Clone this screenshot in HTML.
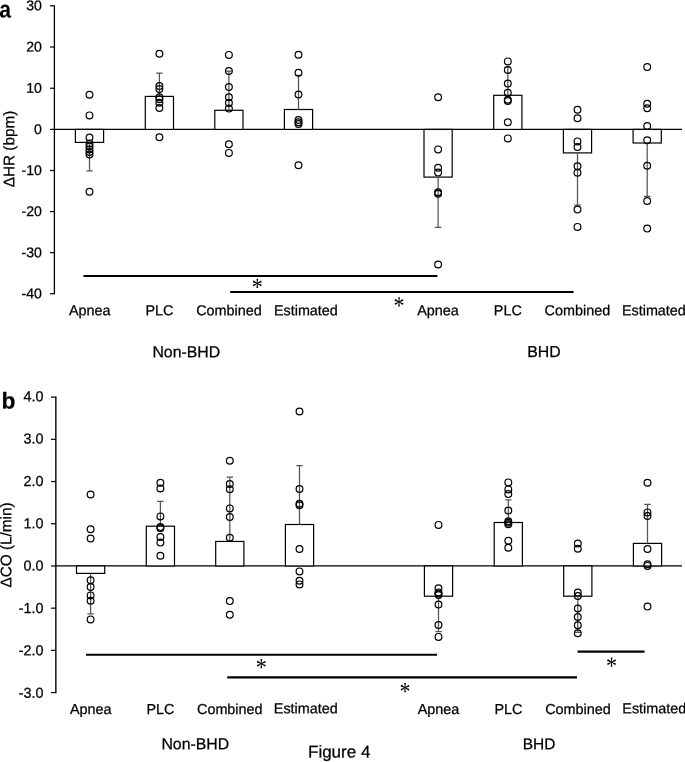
<!DOCTYPE html>
<html lang="en"><head><meta charset="utf-8"><title>Figure 4</title>
<style>
html,body{margin:0;padding:0;background:#fff;}
body{width:685px;height:762px;overflow:hidden;}
svg{display:block;will-change:transform;}
</style></head><body>
<svg width="685" height="762" viewBox="0 0 685 762">
<rect width="685" height="762" fill="#fff"/>
<line x1="54.40" y1="5.20" x2="54.40" y2="294.34" stroke="#000" stroke-width="1.3"/>
<line x1="50.00" y1="5.82" x2="54.40" y2="5.82" stroke="#000" stroke-width="1.2"/>
<text transform="rotate(0.03 41.90 10.32)" x="41.90" y="10.32" font-size="14.1" text-anchor="end" font-weight="normal" font-family='"Liberation Sans", sans-serif' fill="#000" stroke="#000" stroke-width="0.25" >30</text>
<line x1="50.00" y1="47.02" x2="54.40" y2="47.02" stroke="#000" stroke-width="1.2"/>
<text transform="rotate(0.03 41.90 51.52)" x="41.90" y="51.52" font-size="14.1" text-anchor="end" font-weight="normal" font-family='"Liberation Sans", sans-serif' fill="#000" stroke="#000" stroke-width="0.25" >20</text>
<line x1="50.00" y1="88.22" x2="54.40" y2="88.22" stroke="#000" stroke-width="1.2"/>
<text transform="rotate(0.03 41.90 92.72)" x="41.90" y="92.72" font-size="14.1" text-anchor="end" font-weight="normal" font-family='"Liberation Sans", sans-serif' fill="#000" stroke="#000" stroke-width="0.25" >10</text>
<line x1="50.00" y1="129.42" x2="54.40" y2="129.42" stroke="#000" stroke-width="1.2"/>
<text transform="rotate(0.03 41.90 133.92)" x="41.90" y="133.92" font-size="14.1" text-anchor="end" font-weight="normal" font-family='"Liberation Sans", sans-serif' fill="#000" stroke="#000" stroke-width="0.25" >0</text>
<line x1="50.00" y1="170.50" x2="54.40" y2="170.50" stroke="#000" stroke-width="1.2"/>
<text transform="rotate(0.03 41.90 175.00)" x="41.90" y="175.00" font-size="14.1" text-anchor="end" font-weight="normal" font-family='"Liberation Sans", sans-serif' fill="#000" stroke="#000" stroke-width="0.25" >-10</text>
<line x1="50.00" y1="211.58" x2="54.40" y2="211.58" stroke="#000" stroke-width="1.2"/>
<text transform="rotate(0.03 41.90 216.08)" x="41.90" y="216.08" font-size="14.1" text-anchor="end" font-weight="normal" font-family='"Liberation Sans", sans-serif' fill="#000" stroke="#000" stroke-width="0.25" >-20</text>
<line x1="50.00" y1="252.66" x2="54.40" y2="252.66" stroke="#000" stroke-width="1.2"/>
<text transform="rotate(0.03 41.90 257.16)" x="41.90" y="257.16" font-size="14.1" text-anchor="end" font-weight="normal" font-family='"Liberation Sans", sans-serif' fill="#000" stroke="#000" stroke-width="0.25" >-30</text>
<line x1="50.00" y1="293.74" x2="54.40" y2="293.74" stroke="#000" stroke-width="1.2"/>
<text transform="rotate(0.03 41.90 298.24)" x="41.90" y="298.24" font-size="14.1" text-anchor="end" font-weight="normal" font-family='"Liberation Sans", sans-serif' fill="#000" stroke="#000" stroke-width="0.25" >-40</text>
<line x1="54.40" y1="129.42" x2="682.00" y2="129.42" stroke="#000" stroke-width="1.2"/>
<rect x="75.40" y="129.42" width="28.20" height="12.98" fill="#fff" stroke="#000" stroke-width="1.2"/>
<rect x="145.30" y="96.40" width="28.20" height="33.02" fill="#fff" stroke="#000" stroke-width="1.2"/>
<rect x="214.80" y="110.30" width="28.20" height="19.12" fill="#fff" stroke="#000" stroke-width="1.2"/>
<rect x="284.40" y="109.50" width="28.20" height="19.92" fill="#fff" stroke="#000" stroke-width="1.2"/>
<rect x="424.00" y="129.42" width="28.20" height="47.68" fill="#fff" stroke="#000" stroke-width="1.2"/>
<rect x="493.70" y="95.30" width="28.20" height="34.12" fill="#fff" stroke="#000" stroke-width="1.2"/>
<rect x="563.40" y="129.42" width="28.20" height="23.48" fill="#fff" stroke="#000" stroke-width="1.2"/>
<rect x="633.10" y="129.42" width="28.20" height="13.58" fill="#fff" stroke="#000" stroke-width="1.2"/>
<path d="M89.50 142.40V170.90M86.30 170.90H92.70" fill="none" stroke="#555" stroke-width="1.25"/>
<path d="M159.40 96.40V73.10M156.20 73.10H162.60" fill="none" stroke="#555" stroke-width="1.25"/>
<path d="M228.90 110.30V71.10M225.70 71.10H232.10" fill="none" stroke="#555" stroke-width="1.25"/>
<path d="M298.50 109.50V75.40M295.30 75.40H301.70" fill="none" stroke="#555" stroke-width="1.25"/>
<path d="M438.10 177.10V227.40M434.90 227.40H441.30" fill="none" stroke="#555" stroke-width="1.25"/>
<path d="M507.80 95.30V67.40M504.60 67.40H511.00" fill="none" stroke="#555" stroke-width="1.25"/>
<path d="M577.50 152.90V205.20M574.30 205.20H580.70" fill="none" stroke="#555" stroke-width="1.25"/>
<path d="M647.20 143.00V196.30M644.00 196.30H650.40" fill="none" stroke="#555" stroke-width="1.25"/>
<circle cx="89.50" cy="94.80" r="3.38" fill="none" stroke="#000" stroke-width="1.2"/>
<circle cx="89.50" cy="115.40" r="3.38" fill="none" stroke="#000" stroke-width="1.2"/>
<circle cx="89.50" cy="137.50" r="3.38" fill="none" stroke="#000" stroke-width="1.2"/>
<circle cx="89.50" cy="143.50" r="3.38" fill="none" stroke="#000" stroke-width="1.2"/>
<circle cx="89.50" cy="146.50" r="3.38" fill="none" stroke="#000" stroke-width="1.2"/>
<circle cx="89.50" cy="149.50" r="3.38" fill="none" stroke="#000" stroke-width="1.2"/>
<circle cx="89.50" cy="152.00" r="3.38" fill="none" stroke="#000" stroke-width="1.2"/>
<circle cx="89.50" cy="154.50" r="3.38" fill="none" stroke="#000" stroke-width="1.2"/>
<circle cx="89.50" cy="191.80" r="3.38" fill="none" stroke="#000" stroke-width="1.2"/>
<circle cx="159.40" cy="53.70" r="3.38" fill="none" stroke="#000" stroke-width="1.2"/>
<circle cx="159.40" cy="86.10" r="3.38" fill="none" stroke="#000" stroke-width="1.2"/>
<circle cx="159.40" cy="89.10" r="3.38" fill="none" stroke="#000" stroke-width="1.2"/>
<circle cx="159.40" cy="97.30" r="3.38" fill="none" stroke="#000" stroke-width="1.2"/>
<circle cx="159.40" cy="99.30" r="3.38" fill="none" stroke="#000" stroke-width="1.2"/>
<circle cx="159.40" cy="102.80" r="3.38" fill="none" stroke="#000" stroke-width="1.2"/>
<circle cx="159.40" cy="108.00" r="3.38" fill="none" stroke="#000" stroke-width="1.2"/>
<circle cx="159.40" cy="137.20" r="3.38" fill="none" stroke="#000" stroke-width="1.2"/>
<circle cx="228.90" cy="54.90" r="3.38" fill="none" stroke="#000" stroke-width="1.2"/>
<circle cx="228.90" cy="71.10" r="3.38" fill="none" stroke="#000" stroke-width="1.2"/>
<circle cx="228.90" cy="87.10" r="3.38" fill="none" stroke="#000" stroke-width="1.2"/>
<circle cx="228.90" cy="97.20" r="3.38" fill="none" stroke="#000" stroke-width="1.2"/>
<circle cx="228.90" cy="103.00" r="3.38" fill="none" stroke="#000" stroke-width="1.2"/>
<circle cx="228.90" cy="108.60" r="3.38" fill="none" stroke="#000" stroke-width="1.2"/>
<circle cx="228.90" cy="144.20" r="3.38" fill="none" stroke="#000" stroke-width="1.2"/>
<circle cx="228.90" cy="152.90" r="3.38" fill="none" stroke="#000" stroke-width="1.2"/>
<circle cx="298.50" cy="54.70" r="3.38" fill="none" stroke="#000" stroke-width="1.2"/>
<circle cx="298.50" cy="72.80" r="3.38" fill="none" stroke="#000" stroke-width="1.2"/>
<circle cx="298.50" cy="94.60" r="3.38" fill="none" stroke="#000" stroke-width="1.2"/>
<circle cx="298.50" cy="120.00" r="3.38" fill="none" stroke="#000" stroke-width="1.2"/>
<circle cx="298.50" cy="122.30" r="3.38" fill="none" stroke="#000" stroke-width="1.2"/>
<circle cx="298.50" cy="124.00" r="3.38" fill="none" stroke="#000" stroke-width="1.2"/>
<circle cx="298.50" cy="165.30" r="3.38" fill="none" stroke="#000" stroke-width="1.2"/>
<circle cx="438.10" cy="97.30" r="3.38" fill="none" stroke="#000" stroke-width="1.2"/>
<circle cx="438.10" cy="149.40" r="3.38" fill="none" stroke="#000" stroke-width="1.2"/>
<circle cx="438.10" cy="167.80" r="3.38" fill="none" stroke="#000" stroke-width="1.2"/>
<circle cx="438.10" cy="172.60" r="3.38" fill="none" stroke="#000" stroke-width="1.2"/>
<circle cx="438.10" cy="192.30" r="3.38" fill="none" stroke="#000" stroke-width="1.2"/>
<circle cx="438.10" cy="193.80" r="3.38" fill="none" stroke="#000" stroke-width="1.2"/>
<circle cx="438.10" cy="264.50" r="3.38" fill="none" stroke="#000" stroke-width="1.2"/>
<circle cx="507.80" cy="61.40" r="3.38" fill="none" stroke="#000" stroke-width="1.2"/>
<circle cx="507.80" cy="69.90" r="3.38" fill="none" stroke="#000" stroke-width="1.2"/>
<circle cx="507.80" cy="83.60" r="3.38" fill="none" stroke="#000" stroke-width="1.2"/>
<circle cx="507.80" cy="92.80" r="3.38" fill="none" stroke="#000" stroke-width="1.2"/>
<circle cx="507.80" cy="99.80" r="3.38" fill="none" stroke="#000" stroke-width="1.2"/>
<circle cx="507.80" cy="101.00" r="3.38" fill="none" stroke="#000" stroke-width="1.2"/>
<circle cx="507.80" cy="122.20" r="3.38" fill="none" stroke="#000" stroke-width="1.2"/>
<circle cx="507.80" cy="138.40" r="3.38" fill="none" stroke="#000" stroke-width="1.2"/>
<circle cx="577.50" cy="109.80" r="3.38" fill="none" stroke="#000" stroke-width="1.2"/>
<circle cx="577.50" cy="118.20" r="3.38" fill="none" stroke="#000" stroke-width="1.2"/>
<circle cx="577.50" cy="141.40" r="3.38" fill="none" stroke="#000" stroke-width="1.2"/>
<circle cx="577.50" cy="147.10" r="3.38" fill="none" stroke="#000" stroke-width="1.2"/>
<circle cx="577.50" cy="166.30" r="3.38" fill="none" stroke="#000" stroke-width="1.2"/>
<circle cx="577.50" cy="172.80" r="3.38" fill="none" stroke="#000" stroke-width="1.2"/>
<circle cx="577.50" cy="209.60" r="3.38" fill="none" stroke="#000" stroke-width="1.2"/>
<circle cx="577.50" cy="226.90" r="3.38" fill="none" stroke="#000" stroke-width="1.2"/>
<circle cx="647.20" cy="67.10" r="3.38" fill="none" stroke="#000" stroke-width="1.2"/>
<circle cx="647.20" cy="103.80" r="3.38" fill="none" stroke="#000" stroke-width="1.2"/>
<circle cx="647.20" cy="108.30" r="3.38" fill="none" stroke="#000" stroke-width="1.2"/>
<circle cx="647.20" cy="126.00" r="3.38" fill="none" stroke="#000" stroke-width="1.2"/>
<circle cx="647.20" cy="140.20" r="3.38" fill="none" stroke="#000" stroke-width="1.2"/>
<circle cx="647.20" cy="165.80" r="3.38" fill="none" stroke="#000" stroke-width="1.2"/>
<circle cx="647.20" cy="201.00" r="3.38" fill="none" stroke="#000" stroke-width="1.2"/>
<circle cx="647.20" cy="228.60" r="3.38" fill="none" stroke="#000" stroke-width="1.2"/>
<line x1="83.40" y1="276.00" x2="437.40" y2="276.00" stroke="#000" stroke-width="2.1"/>
<line x1="230.20" y1="292.00" x2="573.60" y2="292.00" stroke="#000" stroke-width="2.1"/>
<text transform="translate(257.15,295.59) rotate(0.2) scale(1,1.17)" font-size="22" text-anchor="middle" font-family='"Liberation Serif", serif' fill="#000">*</text>
<text transform="translate(399.00,314.14) rotate(0.2) scale(1,1.17)" font-size="22" text-anchor="middle" font-family='"Liberation Serif", serif' fill="#000">*</text>
<text transform="rotate(0.03 89.80 315.35)" x="89.80" y="315.35" font-size="14.4" text-anchor="middle" font-weight="normal" font-family='"Liberation Sans", sans-serif' fill="#000" stroke="#000" stroke-width="0.25" >Apnea</text>
<text transform="rotate(0.03 159.50 315.35)" x="159.50" y="315.35" font-size="14.4" text-anchor="middle" font-weight="normal" font-family='"Liberation Sans", sans-serif' fill="#000" stroke="#000" stroke-width="0.25" >PLC</text>
<text transform="rotate(0.03 229.00 315.35)" x="229.00" y="315.35" font-size="14.4" text-anchor="middle" font-weight="normal" font-family='"Liberation Sans", sans-serif' fill="#000" stroke="#000" stroke-width="0.25" >Combined</text>
<text transform="rotate(0.03 305.90 315.35)" x="305.90" y="315.35" font-size="14.4" text-anchor="middle" font-weight="normal" font-family='"Liberation Sans", sans-serif' fill="#000" stroke="#000" stroke-width="0.25" >Estimated</text>
<text transform="rotate(0.03 438.00 315.35)" x="438.00" y="315.35" font-size="14.4" text-anchor="middle" font-weight="normal" font-family='"Liberation Sans", sans-serif' fill="#000" stroke="#000" stroke-width="0.25" >Apnea</text>
<text transform="rotate(0.03 507.80 315.35)" x="507.80" y="315.35" font-size="14.4" text-anchor="middle" font-weight="normal" font-family='"Liberation Sans", sans-serif' fill="#000" stroke="#000" stroke-width="0.25" >PLC</text>
<text transform="rotate(0.03 577.40 315.35)" x="577.40" y="315.35" font-size="14.4" text-anchor="middle" font-weight="normal" font-family='"Liberation Sans", sans-serif' fill="#000" stroke="#000" stroke-width="0.25" >Combined</text>
<text transform="rotate(0.03 653.90 315.35)" x="653.90" y="315.35" font-size="14.4" text-anchor="middle" font-weight="normal" font-family='"Liberation Sans", sans-serif' fill="#000" stroke="#000" stroke-width="0.25" >Estimated</text>
<text transform="rotate(0.03 186.30 357.30)" x="186.30" y="357.30" font-size="15.85" text-anchor="middle" font-weight="normal" font-family='"Liberation Sans", sans-serif' fill="#000" stroke="#000" stroke-width="0.25" >Non-BHD</text>
<text transform="rotate(0.03 543.90 357.00)" x="543.90" y="357.00" font-size="15.85" text-anchor="middle" font-weight="normal" font-family='"Liberation Sans", sans-serif' fill="#000" stroke="#000" stroke-width="0.25" >BHD</text>
<text transform="translate(-0.7,17.5) rotate(0.2) scale(0.88,1)" font-size="24" font-weight="bold" font-family='"Liberation Sans", sans-serif' fill="#000">a</text>
<text transform="translate(14.3,149) rotate(-89.97)" font-size="15.3" text-anchor="middle" font-family='"Liberation Sans", sans-serif' fill="#000" stroke="#000" stroke-width="0.25">ΔHR (bpm)</text>
<line x1="55.85" y1="396.50" x2="55.85" y2="693.18" stroke="#000" stroke-width="1.4"/>
<line x1="50.95" y1="397.11" x2="55.85" y2="397.11" stroke="#000" stroke-width="1.2"/>
<text transform="rotate(0.03 43.60 401.20)" x="43.60" y="401.20" font-size="14.4" text-anchor="end" font-weight="normal" font-family='"Liberation Sans", sans-serif' fill="#000" stroke="#000" stroke-width="0.25" >4.0</text>
<line x1="50.95" y1="439.32" x2="55.85" y2="439.32" stroke="#000" stroke-width="1.2"/>
<text transform="rotate(0.03 43.60 443.55)" x="43.60" y="443.55" font-size="14.4" text-anchor="end" font-weight="normal" font-family='"Liberation Sans", sans-serif' fill="#000" stroke="#000" stroke-width="0.25" >3.0</text>
<line x1="50.95" y1="481.53" x2="55.85" y2="481.53" stroke="#000" stroke-width="1.2"/>
<text transform="rotate(0.03 43.60 485.90)" x="43.60" y="485.90" font-size="14.4" text-anchor="end" font-weight="normal" font-family='"Liberation Sans", sans-serif' fill="#000" stroke="#000" stroke-width="0.25" >2.0</text>
<line x1="50.95" y1="523.74" x2="55.85" y2="523.74" stroke="#000" stroke-width="1.2"/>
<text transform="rotate(0.03 43.60 528.25)" x="43.60" y="528.25" font-size="14.4" text-anchor="end" font-weight="normal" font-family='"Liberation Sans", sans-serif' fill="#000" stroke="#000" stroke-width="0.25" >1.0</text>
<line x1="50.95" y1="565.95" x2="55.85" y2="565.95" stroke="#000" stroke-width="1.2"/>
<text transform="rotate(0.03 43.60 570.60)" x="43.60" y="570.60" font-size="14.4" text-anchor="end" font-weight="normal" font-family='"Liberation Sans", sans-serif' fill="#000" stroke="#000" stroke-width="0.25" >0.0</text>
<line x1="50.95" y1="608.16" x2="55.85" y2="608.16" stroke="#000" stroke-width="1.2"/>
<text transform="rotate(0.03 43.60 612.95)" x="43.60" y="612.95" font-size="14.4" text-anchor="end" font-weight="normal" font-family='"Liberation Sans", sans-serif' fill="#000" stroke="#000" stroke-width="0.25" >-1.0</text>
<line x1="50.95" y1="650.37" x2="55.85" y2="650.37" stroke="#000" stroke-width="1.2"/>
<text transform="rotate(0.03 43.60 655.30)" x="43.60" y="655.30" font-size="14.4" text-anchor="end" font-weight="normal" font-family='"Liberation Sans", sans-serif' fill="#000" stroke="#000" stroke-width="0.25" >-2.0</text>
<line x1="50.95" y1="692.58" x2="55.85" y2="692.58" stroke="#000" stroke-width="1.2"/>
<text transform="rotate(0.03 43.60 697.65)" x="43.60" y="697.65" font-size="14.4" text-anchor="end" font-weight="normal" font-family='"Liberation Sans", sans-serif' fill="#000" stroke="#000" stroke-width="0.25" >-3.0</text>
<line x1="55.85" y1="565.95" x2="682.00" y2="565.95" stroke="#000" stroke-width="1.2"/>
<rect x="76.50" y="565.95" width="28.20" height="7.45" fill="#fff" stroke="#000" stroke-width="1.2"/>
<rect x="146.30" y="526.20" width="28.20" height="39.75" fill="#fff" stroke="#000" stroke-width="1.2"/>
<rect x="215.70" y="541.45" width="28.20" height="24.50" fill="#fff" stroke="#000" stroke-width="1.2"/>
<rect x="285.40" y="524.50" width="28.20" height="41.45" fill="#fff" stroke="#000" stroke-width="1.2"/>
<rect x="424.40" y="565.95" width="28.20" height="30.25" fill="#fff" stroke="#000" stroke-width="1.2"/>
<rect x="494.20" y="522.50" width="28.20" height="43.45" fill="#fff" stroke="#000" stroke-width="1.2"/>
<rect x="563.70" y="565.95" width="28.20" height="30.25" fill="#fff" stroke="#000" stroke-width="1.2"/>
<rect x="633.40" y="543.40" width="28.20" height="22.55" fill="#fff" stroke="#000" stroke-width="1.2"/>
<path d="M90.60 573.40V613.80M87.40 613.80H93.80" fill="none" stroke="#555" stroke-width="1.25"/>
<path d="M160.40 526.20V501.40M157.20 501.40H163.60" fill="none" stroke="#555" stroke-width="1.25"/>
<path d="M229.80 541.45V477.00M226.60 477.00H233.00" fill="none" stroke="#555" stroke-width="1.25"/>
<path d="M299.50 524.50V465.50M296.30 465.50H302.70" fill="none" stroke="#555" stroke-width="1.25"/>
<path d="M438.50 596.20V631.70M435.30 631.70H441.70" fill="none" stroke="#555" stroke-width="1.25"/>
<path d="M508.30 522.50V499.90M505.10 499.90H511.50" fill="none" stroke="#555" stroke-width="1.25"/>
<path d="M577.80 596.20V632.40M574.60 632.40H581.00" fill="none" stroke="#555" stroke-width="1.25"/>
<path d="M647.50 543.40V504.30M644.30 504.30H650.70" fill="none" stroke="#555" stroke-width="1.25"/>
<circle cx="90.60" cy="494.50" r="3.38" fill="none" stroke="#000" stroke-width="1.2"/>
<circle cx="90.60" cy="529.20" r="3.38" fill="none" stroke="#000" stroke-width="1.2"/>
<circle cx="90.60" cy="538.50" r="3.38" fill="none" stroke="#000" stroke-width="1.2"/>
<circle cx="90.60" cy="580.30" r="3.38" fill="none" stroke="#000" stroke-width="1.2"/>
<circle cx="90.60" cy="587.10" r="3.38" fill="none" stroke="#000" stroke-width="1.2"/>
<circle cx="90.60" cy="595.40" r="3.38" fill="none" stroke="#000" stroke-width="1.2"/>
<circle cx="90.60" cy="600.70" r="3.38" fill="none" stroke="#000" stroke-width="1.2"/>
<circle cx="90.60" cy="619.40" r="3.38" fill="none" stroke="#000" stroke-width="1.2"/>
<circle cx="160.40" cy="482.70" r="3.38" fill="none" stroke="#000" stroke-width="1.2"/>
<circle cx="160.40" cy="488.50" r="3.38" fill="none" stroke="#000" stroke-width="1.2"/>
<circle cx="160.40" cy="516.40" r="3.38" fill="none" stroke="#000" stroke-width="1.2"/>
<circle cx="160.40" cy="527.10" r="3.38" fill="none" stroke="#000" stroke-width="1.2"/>
<circle cx="160.40" cy="528.20" r="3.38" fill="none" stroke="#000" stroke-width="1.2"/>
<circle cx="160.40" cy="537.10" r="3.38" fill="none" stroke="#000" stroke-width="1.2"/>
<circle cx="160.40" cy="542.60" r="3.38" fill="none" stroke="#000" stroke-width="1.2"/>
<circle cx="160.40" cy="555.80" r="3.38" fill="none" stroke="#000" stroke-width="1.2"/>
<circle cx="229.80" cy="460.80" r="3.38" fill="none" stroke="#000" stroke-width="1.2"/>
<circle cx="229.80" cy="484.00" r="3.38" fill="none" stroke="#000" stroke-width="1.2"/>
<circle cx="229.80" cy="489.20" r="3.38" fill="none" stroke="#000" stroke-width="1.2"/>
<circle cx="229.80" cy="508.40" r="3.38" fill="none" stroke="#000" stroke-width="1.2"/>
<circle cx="229.80" cy="517.10" r="3.38" fill="none" stroke="#000" stroke-width="1.2"/>
<circle cx="229.80" cy="537.80" r="3.38" fill="none" stroke="#000" stroke-width="1.2"/>
<circle cx="229.80" cy="601.10" r="3.38" fill="none" stroke="#000" stroke-width="1.2"/>
<circle cx="229.80" cy="614.80" r="3.38" fill="none" stroke="#000" stroke-width="1.2"/>
<circle cx="299.50" cy="411.50" r="3.38" fill="none" stroke="#000" stroke-width="1.2"/>
<circle cx="299.50" cy="489.00" r="3.38" fill="none" stroke="#000" stroke-width="1.2"/>
<circle cx="299.50" cy="503.70" r="3.38" fill="none" stroke="#000" stroke-width="1.2"/>
<circle cx="299.50" cy="505.20" r="3.38" fill="none" stroke="#000" stroke-width="1.2"/>
<circle cx="299.50" cy="549.00" r="3.38" fill="none" stroke="#000" stroke-width="1.2"/>
<circle cx="299.50" cy="571.40" r="3.38" fill="none" stroke="#000" stroke-width="1.2"/>
<circle cx="299.50" cy="580.70" r="3.38" fill="none" stroke="#000" stroke-width="1.2"/>
<circle cx="299.50" cy="584.40" r="3.38" fill="none" stroke="#000" stroke-width="1.2"/>
<circle cx="438.50" cy="524.90" r="3.38" fill="none" stroke="#000" stroke-width="1.2"/>
<circle cx="438.50" cy="588.20" r="3.38" fill="none" stroke="#000" stroke-width="1.2"/>
<circle cx="438.50" cy="592.40" r="3.38" fill="none" stroke="#000" stroke-width="1.2"/>
<circle cx="438.50" cy="593.60" r="3.38" fill="none" stroke="#000" stroke-width="1.2"/>
<circle cx="438.50" cy="595.00" r="3.38" fill="none" stroke="#000" stroke-width="1.2"/>
<circle cx="438.50" cy="604.60" r="3.38" fill="none" stroke="#000" stroke-width="1.2"/>
<circle cx="438.50" cy="625.10" r="3.38" fill="none" stroke="#000" stroke-width="1.2"/>
<circle cx="438.50" cy="636.90" r="3.38" fill="none" stroke="#000" stroke-width="1.2"/>
<circle cx="508.30" cy="482.40" r="3.38" fill="none" stroke="#000" stroke-width="1.2"/>
<circle cx="508.30" cy="489.40" r="3.38" fill="none" stroke="#000" stroke-width="1.2"/>
<circle cx="508.30" cy="494.10" r="3.38" fill="none" stroke="#000" stroke-width="1.2"/>
<circle cx="508.30" cy="510.60" r="3.38" fill="none" stroke="#000" stroke-width="1.2"/>
<circle cx="508.30" cy="521.30" r="3.38" fill="none" stroke="#000" stroke-width="1.2"/>
<circle cx="508.30" cy="522.80" r="3.38" fill="none" stroke="#000" stroke-width="1.2"/>
<circle cx="508.30" cy="524.30" r="3.38" fill="none" stroke="#000" stroke-width="1.2"/>
<circle cx="508.30" cy="540.70" r="3.38" fill="none" stroke="#000" stroke-width="1.2"/>
<circle cx="508.30" cy="547.70" r="3.38" fill="none" stroke="#000" stroke-width="1.2"/>
<circle cx="577.80" cy="543.50" r="3.38" fill="none" stroke="#000" stroke-width="1.2"/>
<circle cx="577.80" cy="548.70" r="3.38" fill="none" stroke="#000" stroke-width="1.2"/>
<circle cx="577.80" cy="592.60" r="3.38" fill="none" stroke="#000" stroke-width="1.2"/>
<circle cx="577.80" cy="596.10" r="3.38" fill="none" stroke="#000" stroke-width="1.2"/>
<circle cx="577.80" cy="608.50" r="3.38" fill="none" stroke="#000" stroke-width="1.2"/>
<circle cx="577.80" cy="617.00" r="3.38" fill="none" stroke="#000" stroke-width="1.2"/>
<circle cx="577.80" cy="625.20" r="3.38" fill="none" stroke="#000" stroke-width="1.2"/>
<circle cx="577.80" cy="633.20" r="3.38" fill="none" stroke="#000" stroke-width="1.2"/>
<circle cx="647.50" cy="482.70" r="3.38" fill="none" stroke="#000" stroke-width="1.2"/>
<circle cx="647.50" cy="512.40" r="3.38" fill="none" stroke="#000" stroke-width="1.2"/>
<circle cx="647.50" cy="516.00" r="3.38" fill="none" stroke="#000" stroke-width="1.2"/>
<circle cx="647.50" cy="549.00" r="3.38" fill="none" stroke="#000" stroke-width="1.2"/>
<circle cx="647.50" cy="564.20" r="3.38" fill="none" stroke="#000" stroke-width="1.2"/>
<circle cx="647.50" cy="565.90" r="3.38" fill="none" stroke="#000" stroke-width="1.2"/>
<circle cx="647.50" cy="606.60" r="3.38" fill="none" stroke="#000" stroke-width="1.2"/>
<line x1="86.00" y1="654.70" x2="437.00" y2="654.70" stroke="#000" stroke-width="2.1"/>
<line x1="227.20" y1="677.40" x2="577.00" y2="677.40" stroke="#000" stroke-width="2.2"/>
<line x1="577.60" y1="651.60" x2="644.60" y2="651.60" stroke="#000" stroke-width="2.1"/>
<text transform="translate(261.15,675.74) rotate(0.2) scale(1,1.17)" font-size="22" text-anchor="middle" font-family='"Liberation Serif", serif' fill="#000">*</text>
<text transform="translate(405.10,699.84) rotate(0.2) scale(1,1.17)" font-size="22" text-anchor="middle" font-family='"Liberation Serif", serif' fill="#000">*</text>
<text transform="translate(611.45,674.34) rotate(0.2) scale(1,1.17)" font-size="22" text-anchor="middle" font-family='"Liberation Serif", serif' fill="#000">*</text>
<text transform="rotate(0.03 90.70 714.10)" x="90.70" y="714.10" font-size="14.4" text-anchor="middle" font-weight="normal" font-family='"Liberation Sans", sans-serif' fill="#000" stroke="#000" stroke-width="0.25" >Apnea</text>
<text transform="rotate(0.03 160.40 714.10)" x="160.40" y="714.10" font-size="14.4" text-anchor="middle" font-weight="normal" font-family='"Liberation Sans", sans-serif' fill="#000" stroke="#000" stroke-width="0.25" >PLC</text>
<text transform="rotate(0.03 229.80 714.10)" x="229.80" y="714.10" font-size="14.4" text-anchor="middle" font-weight="normal" font-family='"Liberation Sans", sans-serif' fill="#000" stroke="#000" stroke-width="0.25" >Combined</text>
<text transform="rotate(0.03 305.80 713.30)" x="305.80" y="713.30" font-size="14.4" text-anchor="middle" font-weight="normal" font-family='"Liberation Sans", sans-serif' fill="#000" stroke="#000" stroke-width="0.25" >Estimated</text>
<text transform="rotate(0.03 438.50 714.10)" x="438.50" y="714.10" font-size="14.4" text-anchor="middle" font-weight="normal" font-family='"Liberation Sans", sans-serif' fill="#000" stroke="#000" stroke-width="0.25" >Apnea</text>
<text transform="rotate(0.03 508.40 714.10)" x="508.40" y="714.10" font-size="14.4" text-anchor="middle" font-weight="normal" font-family='"Liberation Sans", sans-serif' fill="#000" stroke="#000" stroke-width="0.25" >PLC</text>
<text transform="rotate(0.03 578.00 714.10)" x="578.00" y="714.10" font-size="14.4" text-anchor="middle" font-weight="normal" font-family='"Liberation Sans", sans-serif' fill="#000" stroke="#000" stroke-width="0.25" >Combined</text>
<text transform="rotate(0.03 654.30 713.30)" x="654.30" y="713.30" font-size="14.4" text-anchor="middle" font-weight="normal" font-family='"Liberation Sans", sans-serif' fill="#000" stroke="#000" stroke-width="0.25" >Estimated</text>
<text transform="rotate(0.03 195.30 749.30)" x="195.30" y="749.30" font-size="15.85" text-anchor="middle" font-weight="normal" font-family='"Liberation Sans", sans-serif' fill="#000" stroke="#000" stroke-width="0.25" >Non-BHD</text>
<text transform="rotate(0.03 539.10 749.20)" x="539.10" y="749.20" font-size="15.5" text-anchor="middle" font-weight="normal" font-family='"Liberation Sans", sans-serif' fill="#000" stroke="#000" stroke-width="0.25" >BHD</text>
<text transform="rotate(0.03 1.60 408.40)" x="1.60" y="408.40" font-size="22.8" text-anchor="start" font-weight="bold" font-family='"Liberation Sans", sans-serif' fill="#000" stroke="#000" stroke-width="0.25" >b</text>
<text transform="translate(11.3,545) rotate(-89.97)" font-size="15.3" text-anchor="middle" font-family='"Liberation Sans", sans-serif' fill="#000" stroke="#000" stroke-width="0.25">ΔCO (L/min)</text>
<text transform="rotate(0.03 308.00 757.40)" x="308.00" y="757.40" font-size="17.0" text-anchor="start" font-weight="normal" font-family='"Liberation Sans", sans-serif' fill="#000" stroke="#000" stroke-width="0.25" >Figure 4</text>
</svg>
</body></html>
